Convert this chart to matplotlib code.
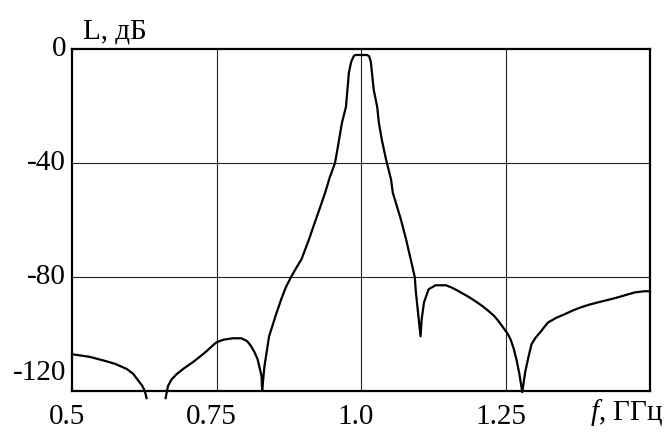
import numpy as np
import matplotlib
matplotlib.use("Agg")
import matplotlib.pyplot as plt
import matplotlib.transforms as mtransforms

plt.rcParams['font.family'] = ['Liberation Serif', 'DejaVu Serif']
plt.rcParams['mathtext.fontset'] = 'custom'
plt.rcParams['mathtext.it'] = 'Liberation Serif:italic'
plt.rcParams['mathtext.rm'] = 'Liberation Serif'

# frequency response (GHz, dB); nan = gap below the axis
freq = [0.500, 0.530, 0.553, 0.575, 0.595, 0.606, 0.614, 0.621, 0.626, 0.629, np.nan,
        0.662, 0.666, 0.672, 0.681, 0.694, 0.709, 0.721, 0.733, 0.742, 0.750,
        0.762, 0.778, 0.793, 0.803, 0.810, 0.816, 0.821, 0.828, 0.829, 0.833,
        0.841, 0.847, 0.853, 0.862, 0.870, 0.879, 0.888, 0.897, 0.910, 0.919,
        0.928, 0.938, 0.946, 0.955, 0.960, 0.967, 0.974, 0.979, 0.983, 0.988,
        0.991, 1.010, 1.014, 1.017, 1.019, 1.022, 1.028, 1.031, 1.036, 1.043,
        1.052, 1.055, 1.069, 1.078, 1.086, 1.093, 1.095, 1.103, 1.105, 1.109,
        1.117, 1.129, 1.147, 1.158, 1.169, 1.184, 1.198, 1.210, 1.221, 1.230,
        1.238, 1.248, 1.254, 1.259, 1.264, 1.269, 1.274, 1.279, 1.284, 1.290,
        1.295, 1.302, 1.310, 1.317, 1.324, 1.338, 1.353, 1.367, 1.381, 1.395,
        1.410, 1.428, 1.445, 1.460, 1.474, 1.490, 1.500]
loss = [-107.1, -108.0, -109.2, -110.5, -112.3, -114.0, -116.2, -118.0, -120.0, -122.5, np.nan,
        -122.5, -118.3, -116.0, -114.1, -112.0, -109.9, -108.0, -106.0, -104.3, -102.9,
        -102.0, -101.5, -101.5, -102.5, -104.3, -106.5, -108.8, -114.8, -119.7, -111.3,
        -100.8, -97.0, -93.1, -87.8, -83.6, -80.0, -76.8, -73.8, -66.8, -61.5,
        -56.3, -50.4, -45.0, -40.0, -34.3, -25.9, -20.3, -8.4, -4.5, -2.3,
        -2.1, -2.1, -2.5, -4.5, -8.4, -14.3, -20.3, -26.0, -31.8, -38.5,
        -45.8, -50.4, -59.8, -66.8, -73.8, -80.0, -85.4, -100.8, -94.8, -88.9,
        -84.3, -82.9, -82.9, -83.8, -85.0, -86.7, -88.5, -90.2, -92.0, -93.6,
        -95.5, -98.3, -100.0, -102.0, -105.0, -109.0, -114.0, -120.4, -113.4, -107.8,
        -103.6, -101.3, -99.4, -97.6, -95.9, -94.3, -93.0, -91.7, -90.6, -89.7,
        -88.9, -88.0, -87.1, -86.2, -85.4, -85.0, -85.0]

xticks = [0.5, 0.75, 1.0, 1.25]
xticklabels = ['0.5', '0.75', '1.0', '1.25']
yticks = [0, -40, -80, -120]
yticklabels = ['0', '-40', '-80', '-120']

fig = plt.figure(figsize=(6.72, 4.32), dpi=100)
ax = fig.add_axes([72 / 672, 1 - 391 / 432, 578 / 672, 342 / 432])

ax.plot(freq, loss, color='black', lw=1.6, clip_on=False, zorder=3)

ax.set_xlim(0.5, 1.5)
ax.set_ylim(-120, 0)

# grid lines (inner only)
for x in xticks[1:]:
    ax.axvline(x, color='#222222', lw=0.8, zorder=1)
for y in yticks[1:-1]:
    ax.axhline(y, color='#222222', lw=0.8, zorder=1)

for s in ax.spines.values():
    s.set_linewidth(1.6)

ax.set_xticks(xticks)
ax.set_xticklabels(xticklabels, fontsize=21)
ax.tick_params(axis='x', length=0, pad=9)
for lab in ax.get_xticklabels():
    lab.set_transform(lab.get_transform() +
                      mtransforms.ScaledTranslation(-5 / 100, 0, fig.dpi_scale_trans))

ax.set_yticks([])
ytrans = mtransforms.blended_transform_factory(ax.transAxes, ax.transData)
for y, lab in zip(yticks, yticklabels):
    dy = 18 / 100 if y == -120 else 0
    off = mtransforms.ScaledTranslation(-6 / 100, dy, fig.dpi_scale_trans)
    ax.text(0, y, lab, transform=ytrans + off, ha='right', va='center', fontsize=21)

ax.text(83 / 672, 1 - 31 / 432, 'L, дБ', transform=fig.transFigure,
        ha='left', va='center', fontsize=21)
ax.text(627 / 672, 1 - 413 / 432, '$f$, ГГц', transform=fig.transFigure,
        ha='center', va='center', fontsize=21)

fig.savefig('out.png', dpi=100)
